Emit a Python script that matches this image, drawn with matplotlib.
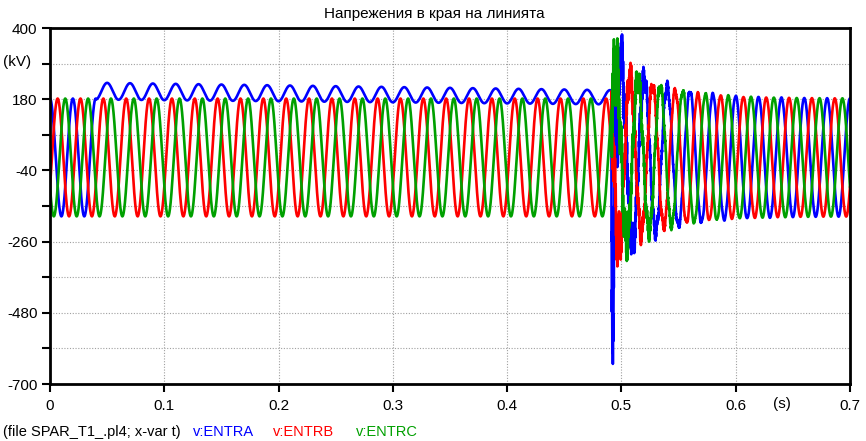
import numpy as np
import matplotlib.pyplot as plt

plt.rcParams["font.family"] = ["Liberation Sans", "DejaVu Sans"]
plt.rcParams["axes.unicode_minus"] = False

SERIES = ["v:ENTRA", "v:ENTRB", "v:ENTRC"]
COLORS = ["#0000ff", "#ff0000", "#00a000"]

# steady state
FREQ = 50.0                      # Hz
AMP = 182.0                      # kV peak
PHASE_DEG = [0.0, -120.0, 120.0]

# phase A opens at ~0.04 s and keeps a trapped charge until reclosing
T_OPEN = 0.040
T_RECLOSE = 0.4913
TRAP_T = [0.040, 0.490]
TRAP_DC = [205.0, 186.0]
TRAP_RIPPLE = [26.0, 22.0]

# reclosing transient, one entry per phase (A, B, C)
OVER_AMP = [130.0, 100.0, 110.0]     # extra 50 Hz amplitude, kV
OVER_TAU = [0.040, 0.040, 0.040]
OVER_LAG = [0.0, 0.0015, 0.0020]     # s
SPIKE_AMP = [490.0, 40.0, 50.0]      # first swing after reclosing, kV
SPIKE_FREQ = [208.0, 235.0, 260.0]
SPIKE_TAU = [0.004, 0.008, 0.008]
SPIKE_PH = [0.0, 1.2, 2.4]
RING_AMP = [60.0, 45.0, 50.0]        # slower ringing, kV
RING_FREQ = [330.0, 290.0, 310.0]
RING_TAU = [0.030, 0.030, 0.030]
RING_PH = [0.5, 2.0, 3.5]
HF_AMP = [70.0, 65.0, 70.0]          # fast ringing, kV
HF_FREQ = [2300.0, 1700.0, 2000.0]
HF_TAU = [0.020, 0.020, 0.020]

TITLE = "Напрежения в края на линията"
X_TICKS = [0.0, 0.1, 0.2, 0.3, 0.4, 0.5, 0.6, 0.7]
X_LABELS = ["0", "0.1", "0.2", "0.3", "0.4", "0.5", "0.6", "0.7"]
Y_MAJOR = [-700, -480, -260, -40, 180, 400]
Y_MINOR = [-590, -370, -150, 70, 290]

t = np.arange(0.0, 0.70001, 2e-5)
w = 2 * np.pi * FREQ
tau = t - T_RECLOSE
after = tau >= 0
tc = np.clip(tau, 0, None)

fig = plt.figure(figsize=(8.66, 4.41), dpi=100)
ax = fig.add_axes([50 / 866, 1 - 384 / 441, 800 / 866, 356 / 441])

for k in range(3):
    phi = np.deg2rad(PHASE_DEG[k])
    decay = np.exp(-tc / OVER_TAU[k])
    amp_t = AMP + OVER_AMP[k] * decay
    tr = (amp_t * np.cos(w * (t - OVER_LAG[k] * decay) + phi)
          - SPIKE_AMP[k] * np.exp(-tc / SPIKE_TAU[k]) * np.sin(2 * np.pi * SPIKE_FREQ[k] * tc + SPIKE_PH[k])
          + RING_AMP[k] * np.exp(-tc / RING_TAU[k]) * np.sin(2 * np.pi * RING_FREQ[k] * tc + RING_PH[k])
          + HF_AMP[k] * np.exp(-tc / HF_TAU[k]) * np.sin(2 * np.pi * HF_FREQ[k] * tc))
    v = np.where(after, tr, AMP * np.cos(w * t + phi))
    if k == 0:
        trapped = (t >= T_OPEN) & (t < T_RECLOSE)
        dc = np.interp(t, TRAP_T, TRAP_DC)
        rip = np.interp(t, TRAP_T, TRAP_RIPPLE)
        v = np.where(trapped, dc - rip * np.cos(w * t), v)
    ax.plot(t, v, color=COLORS[k], lw=1.9, solid_joinstyle="round")

ax.set_xlim(0, 0.7)
ax.set_ylim(-700, 400)
ax.set_xticks(X_TICKS)
ax.set_xticklabels(X_LABELS)
ax.set_yticks(Y_MAJOR)
ax.set_yticks(Y_MINOR, minor=True)
ax.tick_params(which="both", direction="out", length=6, width=1.5, labelsize=11, pad=3)
ax.tick_params(axis="x", pad=5)
ax.grid(True, which="both", color="#a0a0a0", linestyle=(0, (1, 1.5)), linewidth=0.8)
ax.set_axisbelow(True)
for s in ax.spines.values():
    s.set_linewidth(2)

fig.text(782 / 866, 1 - 404 / 441, "(s)", ha="center", va="center", fontsize=11)
fig.text(3 / 866, 1 - 62 / 441, "(kV)", ha="left", va="center", fontsize=11)
fig.text(0.502, 1 - 14 / 441, TITLE, ha="center", va="center", fontsize=11)

fig.text(3 / 866, 1 - 432 / 441, "(file SPAR_T1_.pl4; x-var t)", ha="left", va="center", fontsize=10.5)
for name, col, xp in zip(SERIES, COLORS, [193, 273, 356]):
    fig.text(xp / 866, 1 - 432 / 441, name, color=col, ha="left", va="center", fontsize=10.5)

fig.savefig("out.png", dpi=100)
